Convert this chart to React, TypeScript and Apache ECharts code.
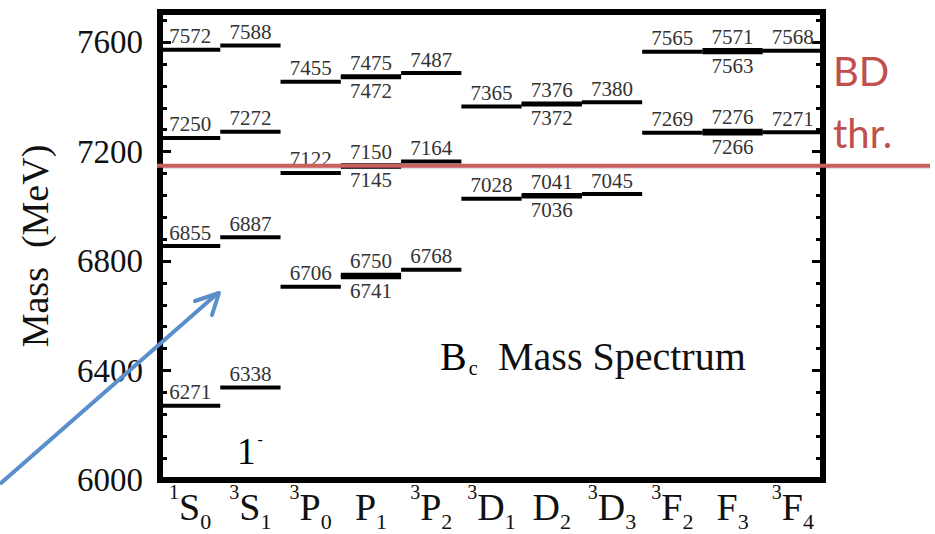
import React, { useEffect, useRef } from 'react';
import * as echarts from 'echarts';

// Spectroscopic labels of the eleven columns: ^{sup}Letter_{sub}
const supScripts = ['1', '3', '3', '', '3', '3', '', '3', '3', '', '3'];
const letters = ['S', 'S', 'P', 'P', 'P', 'D', 'D', 'D', 'F', 'F', 'F'];
const subScripts = ['0', '1', '0', '1', '2', '1', '2', '3', '2', '3', '4'];

// Predicted masses (MeV) per column
const mass1S0 = [6271, 6855, 7250, 7572];
const mass3S1 = [6338, 6887, 7272, 7588];
const mass3P0 = [6706, 7122, 7455];
const massP1 = [6741, 6750, 7145, 7150, 7472, 7475];
const mass3P2 = [6768, 7164, 7487];
const mass3D1 = [7028, 7365];
const massD2 = [7036, 7041, 7372, 7376];
const mass3D3 = [7045, 7380];
const mass3F2 = [7269, 7565];
const massF3 = [7266, 7276, 7563, 7571];
const mass3F4 = [7271, 7568];

// Mass axis
const yMin = 6000;
const yMax = 7710;
const yInterval = 400;

// B D threshold
const bdThreshold = 7148;

const columns = [
  mass1S0, mass3S1, mass3P0, massP1, mass3P2,
  mass3D1, massD2, mass3D3, mass3F2, massF3, mass3F4,
];

const categories = letters.map((l, i) => supScripts[i] + l + subScripts[i]);

// [column, mass, labelBelow]; a level sitting just under a close partner gets its label below
const levelData: number[][] = [];
columns.forEach((col, ci) => {
  col.forEach((m) => {
    const below = col.some((o) => o > m && o - m < 20) ? 1 : 0;
    levelData.push([ci, m, below]);
  });
});

const SERIF = 'Liberation Serif';

export default function App() {
  const ref = useRef<HTMLDivElement>(null);

  useEffect(() => {
    if (!ref.current) return;
    const chart = echarts.init(ref.current, null, { renderer: 'svg' });

    const yAxisCommon = {
      type: 'value' as const,
      min: yMin,
      max: yMax,
      interval: yInterval,
      splitLine: { show: false },
      axisLine: { show: true, lineStyle: { color: '#000', width: 6 } },
      axisTick: { show: true, inside: true, length: 11, lineStyle: { color: '#000', width: 3 } },
      minorTick: { show: true, splitNumber: 5, length: 7, lineStyle: { color: '#000', width: 3 } },
    };

    chart.setOption({
      animation: false,
      backgroundColor: '#fff',
      textStyle: { fontFamily: SERIF },
      grid: {
        left: 160,
        right: 112,
        top: 12,
        bottom: 54,
        show: true,
        borderColor: '#000',
        borderWidth: 6,
      },
      xAxis: {
        type: 'category',
        data: categories,
        axisLine: { show: true, lineStyle: { color: '#000', width: 6 } },
        axisTick: { show: false },
        splitLine: { show: false },
        axisLabel: {
          margin: 2,
          interval: 0,
          formatter: (_v: string, i: number) => {
            const sup = supScripts[i] ? `{sup|${supScripts[i]}}` : '';
            return `${sup}{main|${letters[i]}}{sub|${subScripts[i]}}`;
          },
          rich: {
            sup: { fontFamily: SERIF, fontSize: 20, color: '#111', verticalAlign: 'top', lineHeight: 26 },
            main: { fontFamily: SERIF, fontSize: 38, color: '#111', lineHeight: 50 },
            sub: { fontFamily: SERIF, fontSize: 22, color: '#111', verticalAlign: 'bottom', lineHeight: 22 },
          },
        },
      },
      yAxis: [
        {
          ...yAxisCommon,
          position: 'left',
          name: 'Mass  (MeV)',
          nameLocation: 'middle',
          nameGap: 106,
          nameTextStyle: { fontFamily: SERIF, fontSize: 38, color: '#111' },
          axisLabel: {
            margin: 17,
            fontFamily: SERIF,
            fontSize: 33,
            color: '#111',
            showMaxLabel: false,
            formatter: (v: number) => String(v),
          },
        },
        {
          ...yAxisCommon,
          position: 'right',
          axisLabel: { show: false },
        },
      ],
      series: [
        {
          type: 'custom',
          xAxisIndex: 0,
          yAxisIndex: 0,
          data: levelData,
          z: 5,
          renderItem: (_params: any, api: any) => {
            const col = api.value(0);
            const m = api.value(1);
            const below = api.value(2) === 1;
            const c = api.coord([col, m]);
            const w = api.size([1, 0])[0];
            return {
              type: 'group',
              children: [
                {
                  type: 'rect',
                  shape: { x: c[0] - w / 2, y: c[1] - 2, width: w, height: 4 },
                  style: { fill: '#000' },
                },
                {
                  type: 'text',
                  x: c[0],
                  y: below ? c[1] + 3 : c[1] - 3,
                  style: {
                    text: String(m),
                    fontFamily: SERIF,
                    fontSize: 21,
                    fill: '#333',
                    align: 'center',
                    verticalAlign: below ? 'top' : 'bottom',
                  },
                },
              ],
            };
          },
        },
        {
          // BD threshold: runs across the plot and out past the right frame
          type: 'custom',
          xAxisIndex: 0,
          yAxisIndex: 0,
          data: [[0, bdThreshold]],
          z: 50,
          clip: false,
          renderItem: (_params: any, api: any) => {
            const y = api.coord([0, api.value(1)])[1];
            return {
              type: 'group',
              children: [
                {
                  type: 'line',
                  shape: { x1: 157, y1: y + 2, x2: 930, y2: y + 2 },
                  style: { stroke: 'rgba(0,0,0,0.12)', lineWidth: 3 },
                },
                {
                  type: 'line',
                  shape: { x1: 157, y1: y, x2: 930, y2: y },
                  style: { stroke: '#C9605B', lineWidth: 4 },
                },
              ],
            };
          },
        },
      ],
      graphic: [
        {
          type: 'text',
          z: 100,
          left: 833,
          top: 40,
          style: {
            text: 'BD\nthr.',
            font: '40px Lato',
            lineHeight: 62,
            fill: '#C0504D',
          },
        },
        {
          type: 'text',
          z: 100,
          x: 440,
          y: 356,
          style: {
            text: '{b|B}{c|c}',
            verticalAlign: 'middle',
            rich: {
              b: { fontFamily: SERIF, fontSize: 40, color: '#111', lineHeight: 44 },
              c: { fontFamily: SERIF, fontSize: 20, color: '#111', lineHeight: 20, verticalAlign: 'bottom', padding: [0, 0, 0, 2] },
            },
          },
        },
        {
          type: 'text',
          z: 100,
          x: 498,
          y: 356,
          style: {
            text: 'Mass Spectrum',
            fontFamily: SERIF,
            fontSize: 40,
            fill: '#111',
            verticalAlign: 'middle',
          },
        },
        {
          type: 'text',
          z: 100,
          x: 237,
          y: 451,
          style: {
            text: '{n|1}{s|-}',
            verticalAlign: 'middle',
            rich: {
              n: { fontFamily: SERIF, fontSize: 37, color: '#111', lineHeight: 40 },
              s: { fontFamily: SERIF, fontSize: 16, color: '#111', lineHeight: 24, verticalAlign: 'top', padding: [0, 0, 0, 2] },
            },
          },
        },
        // pointer arrow
        {
          type: 'line',
          z: 100,
          shape: { x1: 0, y1: 484, x2: 218, y2: 293 },
          style: { stroke: '#5B8FCB', lineWidth: 4 },
        },
        {
          type: 'polyline',
          z: 100,
          shape: { points: [[195, 301], [219, 293], [212, 315]] },
          style: { stroke: '#5B8FCB', lineWidth: 4, fill: 'none', lineJoin: 'round', lineCap: 'round' },
        },
      ],
    });

    return () => chart.dispose();
  }, []);

  return (
    <div
      ref={ref}
      style={{ position: 'fixed', left: 0, top: 0, width: 935, height: 534, background: '#fff' }}
    />
  );
}
